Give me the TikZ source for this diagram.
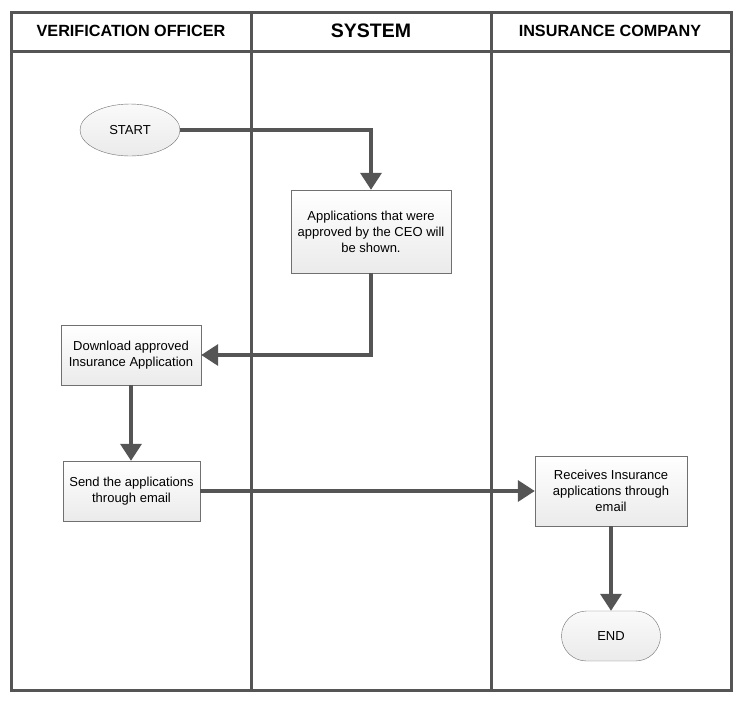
\documentclass[tikz,border=0pt]{standalone}
\usepackage{fontspec}
\setmainfont{Liberation Sans}
\usepackage{tikz}
\usetikzlibrary{shapes,arrows.meta,positioning,calc}

\definecolor{linegray}{HTML}{555555}
\definecolor{boxgray}{HTML}{707070}

\begin{document}
\begin{tikzpicture}[x=1pt, y=-1pt,
    frame/.style={draw=linegray, line width=3pt},
    head/.style={font=\bfseries\fontsize{16.2}{18}\selectfont},
    block/.style={rectangle, draw=boxgray, top color=white, bottom color=gray!16, align=center, inner sep=2pt, font=\fontsize{13}{16}\selectfont},
    terminal/.style={draw=boxgray, top color=gray!4, bottom color=gray!16, font=\fontsize{13}{15}\selectfont},
    arrow/.style={draw=linegray, line width=3.6pt, -{Triangle[length=17pt,width=21pt]}}
]
    \useasboundingbox (0,0) rectangle (745,705);

    % swimlanes
    \draw[frame] (11,12) rectangle (731,690);
    \draw[frame] (11,51) -- (731,51);
    \draw[frame] (251,12) -- (251,690);
    \draw[frame] (491,12) -- (491,690);

    \node[head] (officer) at (131,31) {VERIFICATION OFFICER};
    \node[head, font=\bfseries\fontsize{19.5}{21}\selectfont] (system) at (371,31) {SYSTEM};
    \node[head] (company) at (610,31) {INSURANCE COMPANY};

    % flow
    \node[terminal, ellipse, minimum width=100pt, minimum height=52pt] (start) at (130,130) {START};
    \node[block, minimum width=160pt, minimum height=83pt] (shown) at (371,231.5) {Applications that were\\approved by the CEO will\\be shown.};
    \node[block, minimum width=140pt, minimum height=60pt] (download) at (131,355) {Download approved\\Insurance Application};
    \node[block, minimum width=137pt, minimum height=60pt] (send) at (131.5,491) {Send the applications\\through email};
    \node[block, minimum width=152pt, minimum height=70pt] (receive) at (611,491) {Receives Insurance\\applications through\\email};
    \node[terminal, rectangle, rounded corners=25pt, minimum width=99pt, minimum height=50pt] (end) at (611,636) {END};

    \draw[arrow] (start.east) -| (shown.north);
    \draw[arrow] (shown.south) |- (download.east);
    \draw[arrow] (download.south) -- (download.south |- send.north);
    \draw[arrow] (send.east) -- (receive.west);
    \draw[arrow] (receive.south) -- (end.north);
\end{tikzpicture}
\end{document}
